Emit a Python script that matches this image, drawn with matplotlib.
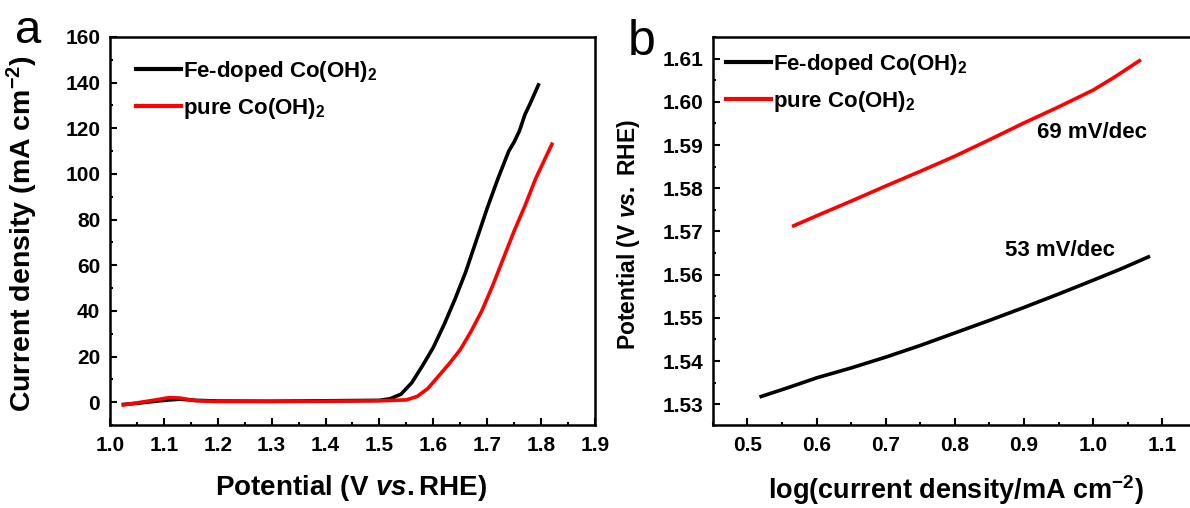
import matplotlib
matplotlib.use("Agg")
import matplotlib.pyplot as plt
from matplotlib.ticker import MultipleLocator

plt.rcParams['font.family'] = ['Liberation Sans', 'DejaVu Sans']
plt.rcParams['mathtext.fontset'] = 'custom'
plt.rcParams['mathtext.rm'] = 'Liberation Sans:bold'
plt.rcParams['mathtext.it'] = 'Liberation Sans:italic:bold'
plt.rcParams['mathtext.bf'] = 'Liberation Sans:bold'

# panel a: polarization curves
v_fe = [1.025, 1.05, 1.08, 1.11, 1.13, 1.16, 1.20, 1.30, 1.40, 1.50, 1.52, 1.54,
        1.56, 1.58, 1.60, 1.62, 1.64, 1.66, 1.68, 1.70, 1.72, 1.74, 1.75, 1.76,
        1.77, 1.78, 1.795]
j_fe = [-1.0, -0.5, 0.3, 1.0, 1.3, 0.8, 0.5, 0.4, 0.6, 0.8, 1.5, 3.5,
        8.5, 16, 24, 34, 45, 57, 71, 85, 98, 110, 114, 119, 126, 131, 139]

v_pure = [1.025, 1.05, 1.08, 1.11, 1.13, 1.16, 1.20, 1.30, 1.40, 1.50, 1.55, 1.57,
          1.59, 1.61, 1.63, 1.65, 1.67, 1.69, 1.71, 1.73, 1.75, 1.77, 1.79, 1.81, 1.82]
j_pure = [-1.2, -0.3, 0.8, 2.0, 1.8, 0.6, 0.3, 0.3, 0.4, 0.6, 1.0, 2.5,
          6, 11.5, 17, 23, 31, 40, 51, 63, 75, 86, 98, 108, 113]

# panel b: Tafel plots
logj_fe = [0.52, 0.56, 0.60, 0.65, 0.70, 0.75, 0.80, 0.85, 0.90, 0.95, 1.00, 1.04, 1.08]
e_fe = [1.5318, 1.5339, 1.5361, 1.5384, 1.5409, 1.5436, 1.5465, 1.5494, 1.5524,
        1.5555, 1.5587, 1.5613, 1.5641]

logj_pure = [0.567, 0.60, 0.65, 0.70, 0.75, 0.80, 0.85, 0.90, 0.95, 1.00, 1.03, 1.067]
e_pure = [1.5713, 1.5736, 1.5770, 1.5805, 1.5839, 1.5874, 1.5912, 1.5951, 1.5988,
          1.6027, 1.6056, 1.6095]

labels = ['Fe-doped Co(OH)$_2$', 'pure Co(OH)$_2$']
slopes = ['69 mV/dec', '53 mV/dec']

fig = plt.figure(figsize=(11.9, 5.08), dpi=100)
ax1 = fig.add_axes([0.0924, 0.1634, 0.4076, 0.7638])
ax2 = fig.add_axes([0.599, 0.1634, 0.4067, 0.7638])

ax1.plot(v_fe, j_fe, color='black', lw=2.6, label=labels[0])
ax1.plot(v_pure, j_pure, color='red', lw=2.6, label=labels[1])
ax1.set_xlim(1.0, 1.9)
ax1.set_ylim(-10, 160)
ax1.xaxis.set_major_locator(MultipleLocator(0.1))
ax1.xaxis.set_minor_locator(MultipleLocator(0.05))
ax1.yaxis.set_major_locator(MultipleLocator(20))
ax1.yaxis.set_minor_locator(MultipleLocator(10))
ax1.xaxis.set_major_formatter(plt.FormatStrFormatter('%.1f'))

ax2.plot(logj_fe, e_fe, color='black', lw=2.6, label=labels[0])
ax2.plot(logj_pure, e_pure, color='red', lw=2.6, label=labels[1])
ax2.set_xlim(0.45, 1.15)
ax2.set_ylim(1.5252, 1.615)
ax2.xaxis.set_major_locator(MultipleLocator(0.1))
ax2.xaxis.set_minor_locator(MultipleLocator(0.05))
ax2.yaxis.set_major_locator(MultipleLocator(0.01))
ax2.yaxis.set_minor_locator(MultipleLocator(0.005))
ax2.xaxis.set_major_formatter(plt.FormatStrFormatter('%.1f'))
ax2.yaxis.set_major_formatter(plt.FormatStrFormatter('%.2f'))

for ax in (ax1, ax2):
    for s in ax.spines.values():
        s.set_linewidth(1.8)
    ax.tick_params(which='major', direction='in', length=5, width=1.5,
                   labelsize=15, pad=8)
    ax.tick_params(which='minor', direction='in', length=2.5, width=1.5)
    ax.tick_params(axis='y', pad=7)
    for t in ax.get_xticklabels() + ax.get_yticklabels():
        t.set_fontweight('bold')
    leg = ax.legend(loc='upper left', frameon=False,
                    handlelength=2.0, handletextpad=0.1, labelspacing=0.53,
                    borderaxespad=0, borderpad=0,
                    bbox_to_anchor=(0.054, 0.943) if ax is ax1 else (0.028, 0.962),
                    prop={'weight': 'bold', 'size': 16})
    for h in leg.get_lines():
        h.set_linewidth(3)

ax2.text(0.919, 1.5928, slopes[0], fontsize=16, fontweight='bold', va='center')
ax2.text(0.8726, 1.5655, slopes[1], fontsize=16, fontweight='bold', va='center')

fig.text(22 / 1190, 1 - 234 / 508, 'Current density (mA cm$^{-2}$)', rotation=90,
         ha='center', va='center', fontsize=20.5, fontweight='bold')
fig.text(351 / 1190, 1 - 488 / 508, 'Potential (V $\\mathit{vs.}$RHE)',
         ha='center', va='center', fontsize=20, fontweight='bold')
fig.text(628 / 1190, 1 - 234 / 508, 'Potential (V $\\mathit{vs.}$ RHE)', rotation=90,
         ha='center', va='center', fontsize=16.5, fontweight='bold')
fig.text(956 / 1190, 1 - 490 / 508, 'log(current density/mA cm$^{-2}$)',
         ha='center', va='center', fontsize=19.5, fontweight='bold')

fig.text(15 / 1190, 1 - 43 / 508, 'a', fontsize=34, va='baseline')
fig.text(628 / 1190, 1 - 55 / 508, 'b', fontsize=36, va='baseline')

plt.savefig('out.png', dpi=100)
